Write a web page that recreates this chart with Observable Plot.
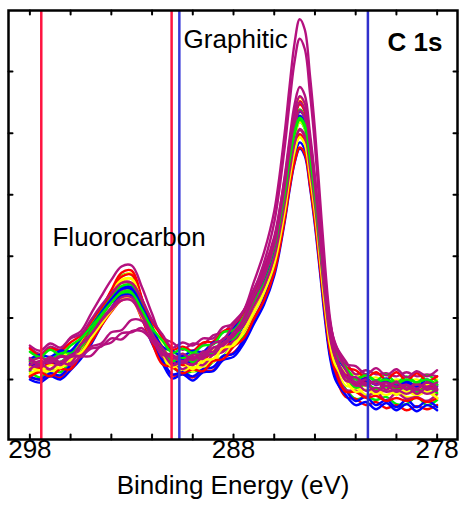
<!DOCTYPE html>
<html><head><meta charset="utf-8">
<script src="https://cdn.jsdelivr.net/npm/d3@7"></script>
<script src="https://cdn.jsdelivr.net/npm/@observablehq/plot@0.6"></script>
<style>body{margin:0;background:#fff;} #chart svg{display:block;}</style>
</head><body><div id="chart"></div>
<script>
// Binding energies (eV) at which each scan is sampled
const energies = [298,297.5,297,296.5,296,295.5,295,294.5,294,293.5,293,292.5,292,291.5,291,290.5,290,289.5,289,288.5,288,287.5,287,286.5,286,
  285.5,285.25,285,284.75,284.5,284.25,284,283.75,283.5,283.25,283,
  282.5,282,281.5,281,280.5,280,279.5,279,278.5,278];

// Intensities (a.u.) of each C 1s scan
const scan01 = [68,62,70,67,78,88,105,127,144,161,162,138,105,80,72,66,68,69,77,83,93,102,125,145,175,230,266,296,311,304,270,230,179,129,89,68,51,41,43,40,43,36,36,43,35,40];
const scan02 = [66,70,70,75,78,91,109,127,146,160,163,137,109,87,72,74,68,77,77,91,95,108,129,150,181,237,273,305,321,314,280,238,187,136,95,74,54,53,45,47,45,48,43,44,48,41];
const scan03 = [74,71,76,75,83,96,111,129,146,160,162,139,111,85,79,74,78,79,87,89,100,113,134,156,187,245,282,314,331,324,290,248,196,145,104,83,67,55,58,49,57,51,56,48,54,50];
const scan04 = [77,81,77,83,86,98,113,129,145,157,158,137,113,93,80,85,80,87,88,99,103,118,140,161,192,249,286,318,335,328,294,253,201,150,109,88,67,65,60,62,57,60,58,60,55,60];
const scan05 = [91,85,92,89,101,107,124,141,157,170,171,150,124,101,96,89,95,94,103,106,116,127,148,169,199,254,290,320,336,329,295,255,205,155,115,94,78,65,69,65,66,63,67,63,65,63];
const scan06 = [62,60,64,62,73,83,105,127,147,164,166,139,106,80,64,65,62,68,69,81,86,98,119,139,168,221,255,284,299,292,260,220,172,123,83,63,43,41,35,38,32,35,30,34,31,35];
const scan07 = [64,69,67,72,76,90,106,124,142,156,158,134,106,79,73,69,72,72,79,82,95,105,125,146,175,230,265,296,311,305,272,233,184,136,96,76,61,51,54,45,51,45,51,45,49,45];
const scan08 = [75,74,78,75,84,92,107,123,137,149,150,131,107,90,76,80,75,84,85,95,99,113,134,154,184,239,275,305,321,315,282,242,193,144,105,84,63,62,59,55,58,55,57,53,57,55];
const scan09 = [79,82,79,86,87,99,112,126,140,151,152,134,111,91,88,81,85,86,95,98,108,119,139,159,189,243,277,307,323,316,284,245,197,148,109,89,73,61,65,59,65,57,63,57,64,58];
const scan10 = [90,83,90,88,96,103,116,130,143,154,154,137,116,102,89,92,88,96,97,107,111,125,145,165,195,249,283,313,328,321,288,249,200,151,112,91,72,69,62,67,60,67,59,66,59,63];
const scan11 = [63,60,66,64,74,81,98,114,130,143,144,123,97,79,65,67,63,70,72,83,85,99,118,138,166,217,250,277,291,284,253,215,169,122,84,64,50,39,43,35,40,33,40,33,39,33];
const scan12 = [69,73,70,77,76,91,104,121,135,147,148,128,104,82,78,70,76,74,84,87,98,107,127,147,175,228,260,289,303,296,264,225,177,130,91,71,50,49,43,48,39,47,41,43,39,46];
const scan13 = [78,76,79,77,86,92,107,121,135,145,146,128,107,91,78,83,77,85,86,97,100,114,135,154,183,236,270,299,313,306,274,235,187,138,99,79,63,52,55,51,53,50,52,48,52,47];
const scan14 = [80,84,82,88,88,100,111,125,138,148,148,131,111,92,88,83,88,87,96,98,110,120,140,159,188,241,274,303,317,310,278,239,192,144,105,85,70,57,61,55,61,53,59,53,60,53];
const scan15 = [93,88,95,91,100,104,118,132,144,154,154,138,118,104,91,96,93,100,100,111,114,127,147,166,195,246,279,307,322,315,284,246,199,152,114,95,75,73,65,71,64,70,62,68,63,69];
const scan16 = [60,57,63,60,69,80,94,112,128,141,142,120,95,76,61,65,59,67,68,79,82,95,114,133,161,212,244,271,285,278,248,210,164,117,80,60,45,35,38,31,37,30,36,29,35,30];
const scan17 = [63,67,63,70,70,84,96,112,126,137,138,119,96,75,72,66,70,68,78,80,92,100,119,137,164,214,246,272,286,280,250,213,168,123,86,68,48,48,42,44,39,42,39,42,38,42];
const scan18 = [72,69,74,71,81,86,100,114,127,138,138,121,100,85,72,77,70,79,80,91,93,107,126,145,172,222,255,282,296,289,259,222,176,130,93,74,59,48,50,46,49,46,48,45,48,42];
const scan19 = [74,78,76,82,82,94,104,118,130,140,140,124,104,86,83,77,81,81,91,93,103,113,132,151,179,230,262,290,304,298,267,230,184,138,100,81,62,60,54,59,50,58,50,57,50,54];
const scan20 = [87,82,89,84,93,100,111,123,135,144,144,128,110,98,86,90,86,93,94,106,108,121,141,160,189,240,273,301,315,308,277,239,192,145,106,86,72,60,64,58,60,56,60,57,60,55];
const scan21 = [77,81,78,83,82,94,104,117,128,137,137,122,104,91,80,85,79,87,87,100,103,118,139,160,191,247,283,314,330,323,289,248,197,146,105,84,63,62,56,58,54,57,51,55,53,57];
const scan22 = [80,74,80,74,82,83,92,95,106,108,118,117,100,84,83,76,82,80,91,94,106,118,140,163,196,256,294,328,345,337,301,257,202,148,104,82,64,54,56,48,54,48,54,46,52,49];
const scan23 = [70,75,70,77,74,82,83,93,96,105,106,110,97,87,74,77,74,83,84,96,102,120,146,174,213,284,329,370,392,382,340,288,223,161,110,84,59,57,49,52,48,50,46,50,46,50];
const scan24 = [81,75,82,77,84,83,90,92,100,99,107,107,98,86,84,78,84,84,95,99,113,127,155,184,224,298,345,388,411,401,357,303,236,170,118,92,70,57,60,55,57,53,55,51,57,51];
const scans = [scan01,scan02,scan03,scan04,scan05,scan06,scan07,scan08,scan09,scan10,scan11,scan12,
  scan13,scan14,scan15,scan16,scan17,scan18,scan19,scan20,scan21,scan22,scan23,scan24];

const palette = {blue: "#0000ff", green: "#00ee00", yellow: "#ffff00", red: "#ff0000", magenta: "#b4117f"};
const scanColors = ["green","yellow","red","yellow","magenta","red","yellow","blue","green","red",
  "blue","magenta","green","blue","magenta","blue","red","yellow","magenta","green",
  "magenta","magenta","magenta","magenta"];

// Reference energies marked by vertical lines
const markerEnergies = [297.44, 291.04, 290.66, 281.40];
const markerColors = ["#ff1440", "#ff1440", "#3a3ad8", "#3030cc"];

const xTicks = [298,296,294,292,290,288,286,284,282,280,278];
const xTickLabels = [298, 288, 278];
const yTicks = [60,120,180,240,300,360];
const xTitle = "Binding Energy (eV)";

const annotationText = ["Graphitic", "Fluorocarbon", "C 1s"];
const annotationEnergy = [290.45, 296.89, 280.44];
const annotationIntensity = [391, 198, 388];
const annotationWeight = ["normal", "normal", "bold"];

// Build table
const rows = [];
scans.forEach((s, i) => s.forEach((v, j) => rows.push({scan: i, energy: energies[j], intensity: v, color: palette[scanColors[i]]})));
const markers = markerEnergies.map((e, i) => ({energy: e, color: markerColors[i]}));
const annotations = annotationText.map((t, i) => ({text: t, energy: annotationEnergy[i], intensity: annotationIntensity[i], weight: annotationWeight[i]}));

const tickShape = {draw(ctx, l) { ctx.moveTo(0, 0); ctx.lineTo(0, -l); }};
const tickOpts = {shape: tickShape, anchor: "start", stroke: "black", strokeWidth: 2};

const chart = Plot.plot({
  width: 463,
  height: 506,
  marginLeft: 8,
  marginRight: 6,
  marginTop: 10,
  marginBottom: 67,
  style: {fontFamily: "'Liberation Sans', Arial, sans-serif", background: "white", color: "black"},
  x: {domain: [299.05, 277], axis: null},
  y: {domain: [1.5, 419.5], axis: null},
  color: {type: "identity"},
  marks: [
    Plot.line(rows, {x: "energy", y: "intensity", z: "scan", stroke: "color", strokeWidth: 2.4, curve: "catmull-rom"}),
    Plot.ruleX(markers, {x: "energy", stroke: "color", strokeWidth: 2.5}),
    Plot.vector(xTicks, {x: d => d, frameAnchor: "bottom", length: 5, rotate: 0, ...tickOpts}),
    Plot.vector(xTicks, {x: d => d, frameAnchor: "top", length: 4, rotate: 180, ...tickOpts}),
    Plot.vector(yTicks, {y: d => d, frameAnchor: "left", length: 4, rotate: 90, ...tickOpts}),
    Plot.vector(yTicks, {y: d => d, frameAnchor: "right", length: 4, rotate: -90, ...tickOpts}),
    Plot.frame({stroke: "black", strokeWidth: 2.5}),
    Plot.text(xTickLabels, {x: d => d, frameAnchor: "bottom", dy: 18, text: d => String(d), fontSize: 26, fill: "black"}),
    Plot.text([xTitle], {frameAnchor: "bottom", dy: 54, text: d => d, fontSize: 26, fill: "black"}),
    Plot.text(annotations.filter(d => d.weight === "normal"), {x: "energy", y: "intensity", text: "text", textAnchor: "start", fontSize: 26, fill: "black"}),
    Plot.text(annotations.filter(d => d.weight === "bold"), {x: "energy", y: "intensity", text: "text", textAnchor: "start", fontSize: 26, fontWeight: "bold", fill: "black"})
  ]
});
document.getElementById("chart").appendChild(chart);
</script>
</body></html>
